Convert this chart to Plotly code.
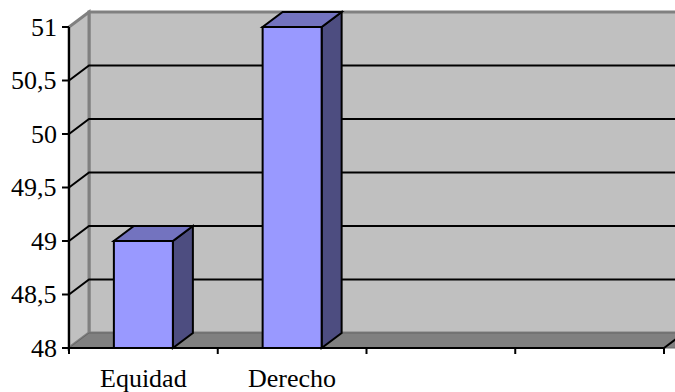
import plotly.graph_objects as go

# ---- data ----
categories = ["Equidad", "Derecho", "", ""]
values = [49, 51, None, None]
y_ticks = [48, 48.5, 49, 49.5, 50, 50.5, 51]
y_tick_labels = ["48", "48,5", "49", "49,5", "50", "50,5", "51"]

# ---- geometry (axis units) ----
W_PX = 148.75          # pixels per category
Y_PX = 107.0           # pixels per y unit
X0_PX, Y0_PX = 69, 348  # pixel position of (0, 48)
FIG_W, FIG_H = 675, 392
YMIN, YMAX = 48, 51
NCAT = len(categories)
DX = 20 / W_PX
DY = 15 / Y_PX
BAR_W = 59 / W_PX

x_range = [-X0_PX / W_PX, (FIG_W - X0_PX) / W_PX]
y_range = [YMIN - (FIG_H - Y0_PX) / Y_PX, YMIN + Y0_PX / Y_PX]

WALL = "#C0C0C0"
WALL_EDGE = "#808080"
FLOOR = "#808080"
FRONT = "#9999FF"
TOP = "#7373BF"
SIDE = "#4D4D80"


def path(pts, close=True):
    s = "M " + " L ".join(f"{x},{y}" for x, y in pts)
    return s + (" Z" if close else "")


shapes = []
# back wall
shapes.append(dict(type="path", xref="x", yref="y", layer="below",
                   path=path([(DX, YMIN + DY), (DX, YMAX + DY), (NCAT + DX + 0.5, YMAX + DY), (NCAT + DX + 0.5, YMIN + DY)]),
                   fillcolor=WALL, line=dict(color=WALL_EDGE, width=3)))
# left wall
shapes.append(dict(type="path", xref="x", yref="y", layer="below",
                   path=path([(0, YMIN), (0, YMAX), (DX, YMAX + DY), (DX, YMIN + DY)]),
                   fillcolor=WALL, line=dict(color=WALL_EDGE, width=3)))
# floor
shapes.append(dict(type="path", xref="x", yref="y", layer="below",
                   path=path([(0, YMIN), (DX, YMIN + DY), (NCAT + DX + 0.5, YMIN + DY), (NCAT + DX + 0.5, YMIN), ]),
                   fillcolor=FLOOR, line=dict(color="#666666", width=1)))
shapes.append(dict(type="path", xref="x", yref="y", layer="below",
                   path=path([(NCAT, YMIN), (NCAT + DX, YMIN + DY)], close=False),
                   line=dict(color="black", width=2)))
# gridlines
for v in y_ticks[1:-1]:
    shapes.append(dict(type="path", xref="x", yref="y", layer="below",
                       path=path([(0, v), (DX, v + DY), (NCAT + DX + 0.5, v + DY)], close=False),
                       line=dict(color="black", width=2)))
# bar top and side faces
for i, v in enumerate(values):
    if v is None:
        continue
    xl = i + 0.5 - BAR_W / 2
    xr = i + 0.5 + BAR_W / 2
    shapes.append(dict(type="path", xref="x", yref="y", layer="below",
                       path=path([(xr, YMIN), (xr, v), (xr + DX, v + DY), (xr + DX, YMIN + DY)]),
                       fillcolor=SIDE, line=dict(color="black", width=2)))
    shapes.append(dict(type="path", xref="x", yref="y", layer="below",
                       path=path([(xl, v), (xr, v), (xr + DX, v + DY), (xl + DX, v + DY)]),
                       fillcolor=TOP, line=dict(color="black", width=2)))
# axes lines and ticks
shapes.append(dict(type="line", xref="x", yref="y", layer="above", x0=0, x1=0, y0=YMIN, y1=YMAX,
                   line=dict(color="black", width=2)))
shapes.append(dict(type="line", xref="x", yref="y", layer="above", x0=0, x1=NCAT, y0=YMIN, y1=YMIN,
                   line=dict(color="black", width=2)))
for v in y_ticks:
    shapes.append(dict(type="line", xref="x", yref="y", layer="above", x0=-7 / W_PX, x1=0, y0=v, y1=v,
                       line=dict(color="black", width=2)))
for k in range(NCAT + 1):
    shapes.append(dict(type="line", xref="x", yref="y", layer="above", x0=k, x1=k, y0=YMIN, y1=YMIN - 6 / Y_PX,
                       line=dict(color="black", width=2)))

annotations = []
FONT = dict(family="'Times New Roman', 'Liberation Serif', serif", size=26, color="black")
for v, lab in zip(y_ticks, y_tick_labels):
    annotations.append(dict(x=-10 / W_PX, y=v, xref="x", yref="y", text=lab, showarrow=False,
                            xanchor="right", yanchor="middle", font=FONT))
for i, c in enumerate(categories):
    if c:
        annotations.append(dict(x=i + 0.5, y=YMIN - 30 / Y_PX, xref="x", yref="y", text=c, showarrow=False,
                                xanchor="center", yanchor="middle", font=FONT))

bx = [i + 0.5 for i, v in enumerate(values) if v is not None]
by = [v - YMIN for v in values if v is not None]

fig = go.Figure(go.Bar(x=bx, y=by, base=[YMIN] * len(by), width=BAR_W,
                       marker=dict(color=FRONT, line=dict(color="black", width=2)),
                       hoverinfo="skip", cliponaxis=False))
fig.update_layout(
    width=FIG_W, height=FIG_H, margin=dict(l=0, r=0, t=0, b=0),
    paper_bgcolor="white", plot_bgcolor="white", showlegend=False,
    font=FONT,
    xaxis=dict(range=x_range, visible=False, fixedrange=True),
    yaxis=dict(range=y_range, visible=False, fixedrange=True),
    shapes=shapes, annotations=annotations,
)
fig.write_html("out.html")
